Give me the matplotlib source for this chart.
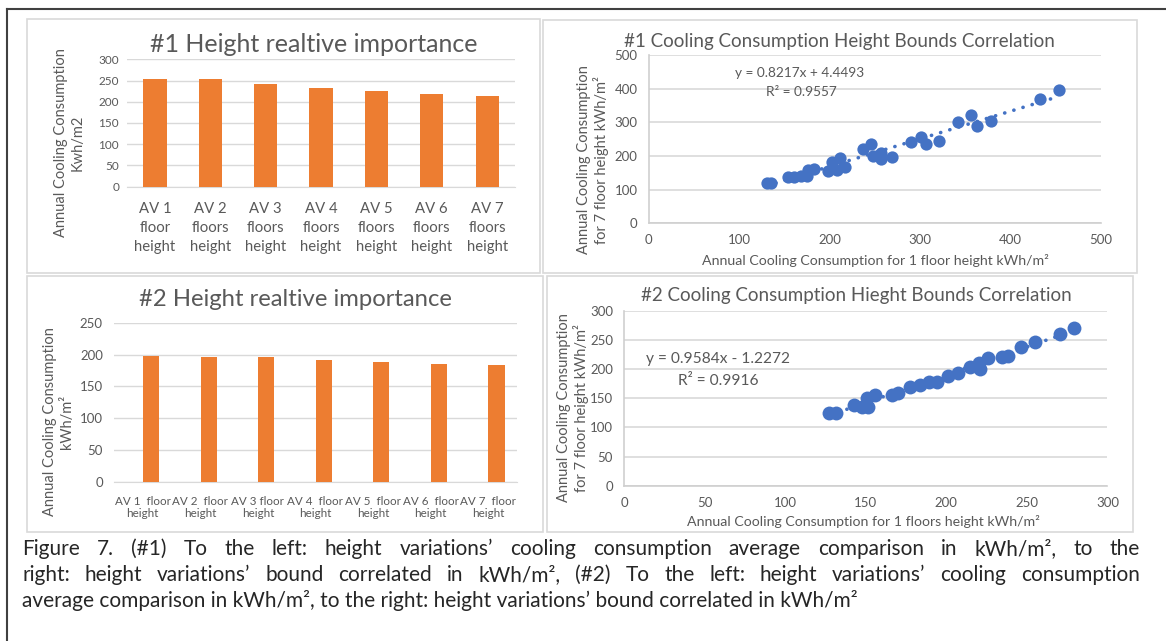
import numpy as np
import matplotlib.pyplot as plt
from matplotlib.patches import Rectangle
from matplotlib.lines import Line2D

plt.rcParams['font.family'] = ['Lato', 'DejaVu Sans']

W, H = 1166, 641
ORANGE = '#ED7D31'
BLUE = '#4472C4'
GREY = '#595959'
GRID = '#D9D9D9'

# --- data ---
bar1_labels = ['AV 1\nfloor\nheight', 'AV 2\nfloors\nheight', 'AV 3\nfloors\nheight',
               'AV 4\nfloors\nheight', 'AV 5\nfloors\nheight', 'AV 6\nfloors\nheight',
               'AV 7\nfloors\nheight']
bar1_values = [254, 253, 243, 233, 225, 218, 213]

bar2_labels = ['AV 1  floor\nheight', 'AV 2  floor\nheight', 'AV 3 floor\nheight',
               'AV 4  floor\nheight', 'AV 5  floor\nheight', 'AV 6  floor\nheight',
               'AV 7  floor\nheight']
bar2_values = [197.5, 196.5, 195.5, 191, 187.5, 185, 183.5]

sc1_x = [130.5, 135, 154, 160.5, 168, 174.5, 176.5, 182.5, 198, 203, 208, 211, 217,
         236.5, 245.5, 248, 256.5, 256.5, 269.5, 290, 301.5, 307, 321, 342, 356, 363,
         378, 433, 454]
sc1_y = [121, 121, 137, 139, 141, 141, 158, 161, 156, 183, 158, 193, 168,
         220, 235, 200, 208, 190, 198, 241, 255, 235, 245, 300, 322, 289,
         305, 369, 397]
sc1_fit = (0.8217, 4.4493)

sc2_x = [127, 131.5, 142.5, 147.5, 151.5, 150.5, 155.5, 166, 170, 177.5, 183.5, 189,
         194.5, 201, 207.5, 214.5, 220, 221, 226, 234.5, 238.5, 246.5, 255, 270.5, 279.5]
sc2_y = [124.5, 124.5, 138.5, 135.5, 135.5, 150, 156, 156, 158.5, 169, 173, 178.5,
         178.5, 189, 193, 204.5, 210, 200, 219, 220.5, 223, 239, 247.5, 261, 271]
sc2_fit = (0.9584, -1.2272)

caption = [
    "Figure 7. (#1) To the left: height variations\u2019 cooling consumption average comparison in kWh/m\u00b2, to the",
    "right: height variations\u2019 bound correlated in kWh/m\u00b2, (#2) To the left: height variations\u2019 cooling consumption",
    "average comparison in kWh/m\u00b2, to the right: height variations\u2019 bound correlated in kWh/m\u00b2",
]

fig = plt.figure(figsize=(W / 100, H / 100), dpi=100)


def rect(l, t, r, b):
    return [l / W, 1 - b / H, (r - l) / W, (b - t) / H]


def ftext(x, y, s, **kw):
    return fig.text(x / W, 1 - y / H, s, **kw)


# panel frames
for l, t, r, b in [(27, 19, 540, 273), (543, 20, 1137, 273),
                   (27, 276, 543, 532), (547, 276, 1133, 532)]:
    fig.patches.append(Rectangle((l / W, 1 - b / H), (r - l) / W, (b - t) / H,
                                 transform=fig.transFigure, fill=False, ec=GRID, lw=1.2))
fig.lines.append(Line2D([7 / W, 7 / W], [0, 1 - 9 / H], transform=fig.transFigure,
                        color='#404040', lw=1.5))
fig.lines.append(Line2D([7 / W, 1], [1 - 9 / H, 1 - 9 / H], transform=fig.transFigure,
                        color='#404040', lw=1.5))


def bar_panel(box, labels, values, ymax, step, bw, xt_size, yt_size, xpad, ypad, lsp, shift=0.0):
    ax = fig.add_axes(box)
    x = np.arange(len(values))
    # shift > 0 mimics the empty second series of the original clustered chart
    ax.bar(x + shift, values, width=bw, color=ORANGE, zorder=3)
    ax.set_xlim(-0.5, len(values) - 0.5)
    ax.set_ylim(0, ymax)
    ax.set_yticks(np.arange(0, ymax + 1, step))
    ax.set_xticks(x)
    ax.set_xticklabels(labels, fontsize=xt_size, linespacing=lsp)
    ax.yaxis.grid(True, color=GRID, lw=1)
    ax.set_axisbelow(True)
    for s in ['top', 'right', 'left']:
        ax.spines[s].set_visible(False)
    ax.spines['bottom'].set_color(GRID)
    ax.tick_params(axis='both', length=0, colors=GREY)
    ax.tick_params(axis='x', pad=xpad)
    ax.tick_params(axis='y', pad=ypad, labelsize=yt_size)
    return ax


def scatter_panel(box, xs, ys, fit, xmax, xstep, ymax, ystep, size, tsize):
    ax = fig.add_axes(box)
    xs = np.array(xs)
    ax.scatter(xs, ys, s=size, color=BLUE, lw=0, zorder=3)
    xx = np.array([xs.min(), xs.max()])
    ax.plot(xx, fit[0] * xx + fit[1], color=BLUE, lw=2.6, ls=(0, (0.05, 2.6)),
            dash_capstyle='round', zorder=2)
    ax.set_xlim(0, xmax)
    ax.set_ylim(0, ymax)
    ax.set_xticks(np.arange(0, xmax + 1, xstep))
    ax.set_yticks(np.arange(0, ymax + 1, ystep))
    ax.yaxis.grid(True, color=GRID, lw=1.2)
    ax.set_axisbelow(True)
    for s in ['top', 'right']:
        ax.spines[s].set_visible(False)
    for s in ['left', 'bottom']:
        ax.spines[s].set_color('#CFCFCF')
        ax.spines[s].set_linewidth(1.2)
    ax.tick_params(axis='both', length=0, colors=GREY, labelsize=tsize, pad=8)
    return ax


# #1 bar chart
bar_panel(rect(127.4, 59.3, 514.8, 186.7), bar1_labels, bar1_values, 300, 50, 0.42,
          10.7, 8.5, 11, 6, 1.45)
ftext(314, 45, '#1 Height realtive importance', fontsize=18, color=GREY, ha='center', va='center')
ftext(69.5, 143, 'Annual Cooling Consumption\nKwh/m2', fontsize=10.5, color=GREY,
      rotation=90, ha='center', va='center', multialignment='center', linespacing=1.25)

# #2 bar chart
bar_panel(rect(114, 322.7, 516.9, 481.7), bar2_labels, bar2_values, 250, 50, 0.28,
          8.4, 9.5, 10, 8, 1.2, shift=0.145)
ftext(295.4, 300, '#2 Height realtive importance', fontsize=17.2, color=GREY, ha='center', va='center')
ftext(58.2, 421.7, 'Annual Cooling Consumption\nkWh/m\u00b2', fontsize=10.5, color=GREY,
      rotation=90, ha='center', va='center', multialignment='center', linespacing=1.25)

# #1 scatter
scatter_panel(rect(648.6, 55, 1101.1, 223.3), sc1_x, sc1_y, sc1_fit, 500, 100, 500, 100, 78, 9.5)
ftext(839.5, 41.7, '#1 Cooling Consumption Height Bounds Correlation', fontsize=13.5,
      color=GREY, ha='center', va='center')
ftext(593, 160, 'Annual Cooling Consumption\nfor 7 floor height kWh/m\u00b2', fontsize=10.5,
      color=GREY, rotation=90, ha='center', va='center', multialignment='center', linespacing=1.15)
ftext(875.5, 260.7, 'Annual Cooling Consumption for 1 floor height kWh/m\u00b2', fontsize=10.2,
      color=GREY, ha='center', va='center')
ftext(800, 73.3, 'y = 0.8217x + 4.4493', fontsize=9.8, color=GREY, ha='center', va='center')
ftext(801.6, 91.7, 'R\u00b2 = 0.9557', fontsize=9.8, color=GREY, ha='center', va='center')

# #2 scatter
scatter_panel(rect(624.2, 311, 1107.4, 485.7), sc2_x, sc2_y, sc2_fit, 300, 50, 300, 50, 100, 9.5)
ftext(855.9, 295.7, '#2 Cooling Consumption Hieght Bounds Correlation', fontsize=13.5,
      color=GREY, ha='center', va='center')
ftext(572.7, 408, 'Annual Cooling Consumption\nfor 7 floor height kWh/m\u00b2', fontsize=10.5,
      color=GREY, rotation=90, ha='center', va='center', multialignment='center', linespacing=1.15)
ftext(863.8, 521, 'Annual Cooling Consumption for 1 floors height kWh/m\u00b2', fontsize=10.2,
      color=GREY, ha='center', va='center')
ftext(718.5, 359, 'y = 0.9584x - 1.2272', fontsize=11.2, color=GREY, ha='center', va='center')
ftext(718.5, 381, 'R\u00b2 = 0.9916', fontsize=11.2, color=GREY, ha='center', va='center')

# caption, first two lines justified
renderer = fig.canvas.get_renderer()
baselines = [555, 581, 607]
x0, x1 = 22, 1140
CAP = 15
for i, line in enumerate(caption):
    if i == 2:
        ftext(x0, baselines[i], line, fontsize=CAP, color='#262626', va='baseline')
        continue
    words = line.split(' ')
    texts = [ftext(x0, baselines[i], w, fontsize=CAP, color='#262626', va='baseline')
             for w in words]
    widths = [t.get_window_extent(renderer).width for t in texts]
    gap = (x1 - x0 - sum(widths)) / (len(words) - 1)
    x = x0
    for t, w in zip(texts, widths):
        t.set_x(x / W)
        x += w + gap

fig.savefig('out.png', dpi=100)
